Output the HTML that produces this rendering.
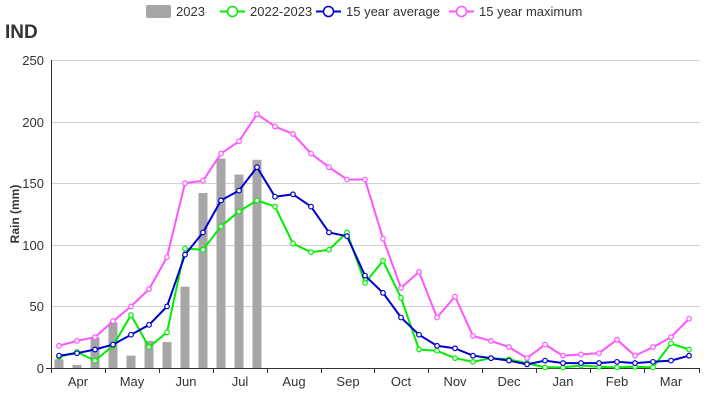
<!DOCTYPE html>
<html><head><meta charset="utf-8"><style>
body{margin:0;background:#fff;}
svg{display:block;font-family:"Liberation Sans",sans-serif;}
</style></head><body>
<svg width="726" height="400" xmlns="http://www.w3.org/2000/svg">
<text x="5" y="38" font-size="19" font-weight="bold" fill="#333">IND</text>
<!-- legend -->
<rect x="146" y="5" width="25" height="13" rx="2" fill="#a6a6a6"/>
<text x="176" y="16" font-size="13" fill="#333">2023</text>
<line x1="220" y1="11.5" x2="245" y2="11.5" stroke="#00ee00" stroke-width="2"/><circle cx="232.5" cy="11.5" r="5" fill="#fff" stroke="#00ee00" stroke-width="1.5"/>
<text x="250" y="16" font-size="13" fill="#333">2022-2023</text>
<line x1="316" y1="11.5" x2="341" y2="11.5" stroke="#0000cc" stroke-width="2"/><circle cx="328.5" cy="11.5" r="5" fill="#fff" stroke="#0000cc" stroke-width="1.5"/>
<text x="346" y="16" font-size="13" fill="#333">15 year average</text>
<line x1="449" y1="11.5" x2="474" y2="11.5" stroke="#ff55ff" stroke-width="2"/><circle cx="461.5" cy="11.5" r="5" fill="#fff" stroke="#ff55ff" stroke-width="1.5"/>
<text x="479" y="16" font-size="13" fill="#333">15 year maximum</text>
<!-- grid -->
<g stroke="#d0d0d0" stroke-width="1">
<line x1="51" y1="60.5" x2="700" y2="60.5"/><line x1="51" y1="122.5" x2="700" y2="122.5"/>
<line x1="51" y1="183.5" x2="700" y2="183.5"/><line x1="51" y1="245.5" x2="700" y2="245.5"/>
<line x1="51" y1="306.5" x2="700" y2="306.5"/>
</g>
<line x1="51.5" y1="60" x2="51.5" y2="368" stroke="#333"/>
<line x1="46" y1="368.5" x2="700" y2="368.5" stroke="#333"/>
<g font-size="13" fill="#333" text-anchor="end">
<text x="44" y="65">250</text><text x="44" y="127">200</text><text x="44" y="188">150</text>
<text x="44" y="250">100</text><text x="44" y="311">50</text><text x="44" y="373">0</text>
</g>
<text transform="translate(19,214) rotate(-90)" font-size="12" font-weight="bold" fill="#333" text-anchor="middle">Rain (mm)</text>
<g stroke="#333"><path d="M51.5 368v5M105.5 368v5M159.5 368v5M213.5 368v5M267.5 368v5M321.5 368v5M374.5 368v5M428.5 368v5M482.5 368v5M536.5 368v5M590.5 368v5M644.5 368v5M699.5 368v5"/></g>
<g font-size="13" fill="#333" text-anchor="middle">
<text x="78" y="386">Apr</text><text x="132" y="386">May</text><text x="186" y="386">Jun</text><text x="240" y="386">Jul</text><text x="294" y="386">Aug</text><text x="348" y="386">Sep</text><text x="401" y="386">Oct</text><text x="455" y="386">Nov</text><text x="509" y="386">Dec</text><text x="563" y="386">Jan</text><text x="617" y="386">Feb</text><text x="671" y="386">Mar</text>
</g>
<g id="bars" fill="#a6a6a6"></g>
<g id="lines"></g>
</svg>
<script>
var ns="http://www.w3.org/2000/svg";
function X(i){return 59+i*18;}function Y(v){return 368-v*1.232;}
var bars=[7,2.5,25,37,10,22,21,66,142,170,157,169];
var bg=document.getElementById('bars');
bars.forEach(function(v,i){var r=document.createElementNS(ns,'rect');r.setAttribute('x',X(i)-4.5);r.setAttribute('y',Y(v));r.setAttribute('width',9);r.setAttribute('height',v*1.232);bg.appendChild(r);});
var mag=[18,22,25,38,50,64,90,150,152,174,184,206,196,190,174,163,153,153,105,65,78,41,58,26,22,17,8,19,10,11,12,23,10,17,25,40];
var blu=[10,12,15,19,27,35,50,92,110,136,144,163,139,141,131,110,107,75,61,41,27,18,16,10,8,6,3,6,4,4,4,5,4,5,6,10];
var grn=[9,13,6,18,43,17,29,97,96,115,127,136,131,101,94,96,110,69,87,57,15,14,8,5,8,7,4,0.5,0.5,2,1,0.5,1,0.5,20,15];
var lg=document.getElementById('lines');
[[grn,'#00ee00'],[blu,'#0000cc'],[mag,'#ff55ff']].forEach(function(s){
var d=s[0].map(function(v,i){return (i?'L':'M')+X(i)+' '+Y(v).toFixed(1);}).join('');
var p=document.createElementNS(ns,'path');p.setAttribute('d',d);p.setAttribute('fill','none');p.setAttribute('stroke',s[1]);p.setAttribute('stroke-width','2');lg.appendChild(p);
s[0].forEach(function(v,i){var c=document.createElementNS(ns,'circle');c.setAttribute('cx',X(i));c.setAttribute('cy',Y(v));c.setAttribute('r',2.3);c.setAttribute('fill','#fff');c.setAttribute('stroke',s[1]);c.setAttribute('stroke-width','1.2');lg.appendChild(c);});
});
</script>
</body></html>
